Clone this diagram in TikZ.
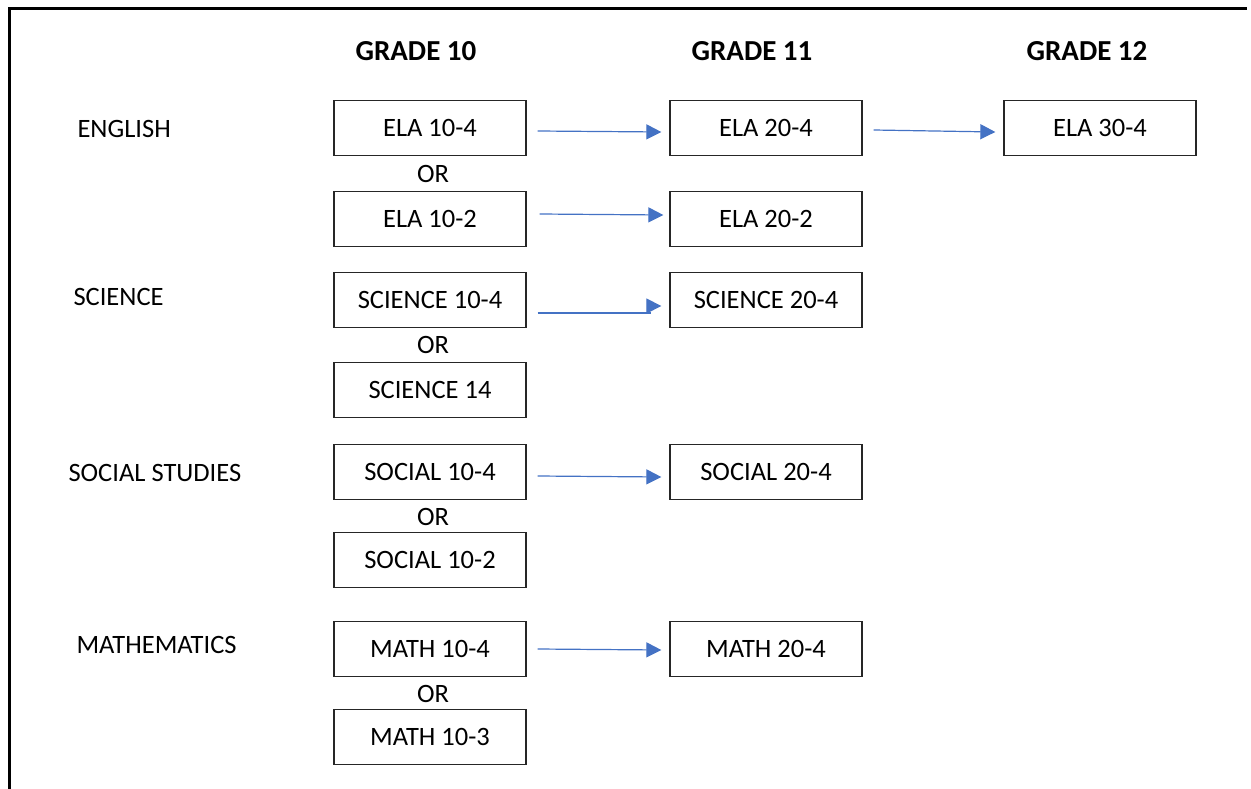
\documentclass[tikz,border=0pt]{standalone}
\usepackage{fontspec}
\setmainfont{Carlito}
\usetikzlibrary{arrows.meta}
\definecolor{arrblue}{HTML}{4472C4}
\tikzset{
  course/.style={draw=black!85, line width=1.3pt, minimum width=192pt, minimum height=55pt, inner sep=0pt, font=\fontsize{26.5}{30}\selectfont},
  grade/.style={font=\fontsize{29}{33}\selectfont\bfseries},
  subj/.style={anchor=west, font=\fontsize{26.5}{30}\selectfont},
  ortext/.style={font=\fontsize{26.5}{30}\selectfont},
  arr/.style={draw=arrblue, line width=1.2pt, -{Triangle[length=15pt,width=15pt]}},
  arrline/.style={draw=arrblue, line width=1.2pt},
}
\begin{document}
\begin{tikzpicture}[x=1pt,y=-1pt]
\useasboundingbox (0,0) rectangle (1251,789);
\draw[line width=3pt, line join=miter] (9.5,795) -- (9.5,8.5) -- (1247,8.5);

% headings
\node[grade] (g10) at (416,51) {GRADE 10};
\node[grade] (g11) at (752,51) {GRADE 11};
\node[grade] (g12) at (1087,51) {GRADE 12};

% subjects
\node[subj] (eng) at (74,129) {ENGLISH};
\node[subj] (sci) at (70,297) {SCIENCE};
\node[subj] (soc) at (65,473) {SOCIAL STUDIES};
\node[subj] (mat) at (73,645) {MATHEMATICS};

% English
\node[course] (e104) at (430,128) {ELA 10-4};
\node[ortext] (or1) at (433,174) {OR};
\node[course] (e102) at (430,219) {ELA 10-2};
\node[course] (e204) at (766,128) {ELA 20-4};
\node[course] (e202) at (766,219) {ELA 20-2};
\node[course] (e304) at (1100,128) {ELA 30-4};

% Science
\node[course] (s104) at (430,300) {SCIENCE 10-4};
\node[ortext] (or2) at (433,345) {OR};
\node[course] (s14) at (430,390) {SCIENCE 14};
\node[course] (s204) at (766,300) {SCIENCE 20-4};

% Social
\node[course] (o104) at (430,472) {SOCIAL 10-4};
\node[ortext] (or3) at (433,517) {OR};
\node[course] (o102) at (430,560) {SOCIAL 10-2};
\node[course] (o204) at (766,472) {SOCIAL 20-4};

% Math
\node[course] (m104) at (430,649) {MATH 10-4};
\node[ortext] (or4) at (433,694) {OR};
\node[course] (m103) at (430,737) {MATH 10-3};
\node[course] (m204) at (766,649) {MATH 20-4};

% arrows
\draw[arr] ([xshift=11pt,yshift=-3pt]e104.east) -- ([xshift=-8pt,yshift=-4pt]e204.west);
\draw[arr] ([xshift=11pt,yshift=-2pt]e204.east) -- ([xshift=-8pt,yshift=-4pt]e304.west);
\draw[arr] ([xshift=13pt,yshift=5pt]e102.east) -- ([xshift=-6pt,yshift=4pt]e202.west);
\draw[arrline] ([xshift=11pt,yshift=-13pt]s104.east) -- ([xshift=-18pt,yshift=-13pt]s204.west);
\draw[arr] ([xshift=-22pt,yshift=-6pt]s204.west) -- ([xshift=-8pt,yshift=-6pt]s204.west);
\draw[arr] ([xshift=11pt,yshift=-4pt]o104.east) -- ([xshift=-8pt,yshift=-5pt]o204.west);
\draw[arr] ([xshift=11pt]m104.east) -- ([xshift=-8pt,yshift=-1pt]m204.west);
\end{tikzpicture}
\end{document}
